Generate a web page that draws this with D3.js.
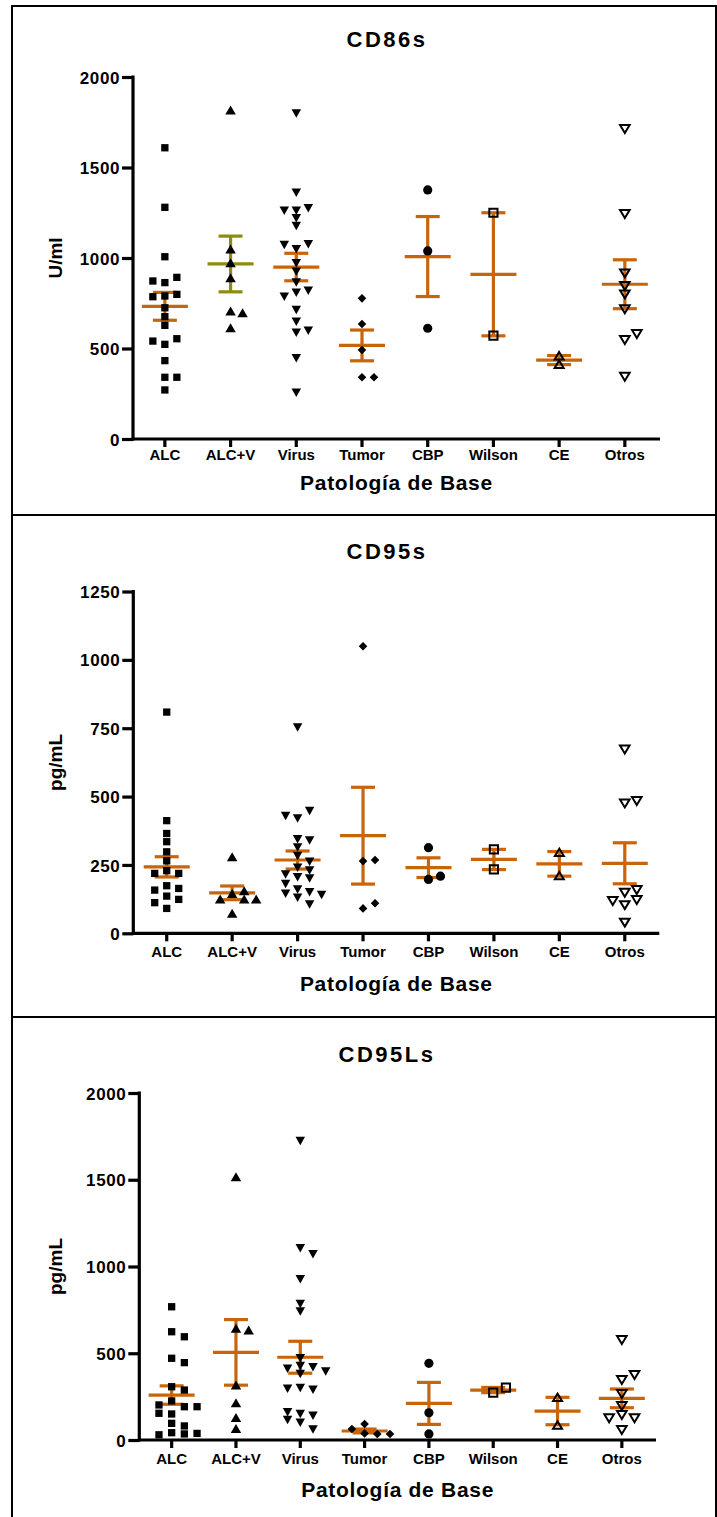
<!DOCTYPE html>
<html>
<head>
<meta charset="utf-8">
<script src="https://cdnjs.cloudflare.com/ajax/libs/d3/7.8.5/d3.min.js"></script>
<style>
  body { margin: 0; background: #fff; }
  svg text { font-family: "Liberation Sans", Arial, Helvetica, sans-serif; font-weight: bold; fill: #000; }
</style>
</head>
<body>
<svg id="chart" width="717" height="1517"></svg>
<script>
// groups, same for the three plots
var categories = ["ALC", "ALC+V", "Virus", "Tumor", "CBP", "Wilson", "CE", "Otros"];

// CD86s (U/ml)
var cd86Ticks = [0, 500, 1000, 1500, 2000];
var cd86Values = [
  [1609, 1280, 1007, 864, 893, 873, 790, 799, 786, 725, 676, 628, 523, 554, 541, 433, 341, 341, 271],
  [1818, 1050, 974, 891, 707, 698, 615],
  [1799, 1361, 1261, 1275, 1261, 1219, 1177, 1048, 1076, 1072, 971, 924, 864, 808, 819, 786, 713, 648, 587, 598, 446, 256],
  [777, 635, 492, 341, 341],
  [1376, 1039, 612],
  [1250, 571],
  [413, 460],
  [1713, 1243, 915, 845, 799, 717, 547, 580, 344]
];
var cd86Mean = [733, 967, 950, 517, 1008, 910, 436, 855];
var cd86Sem  = [77, 154, 76, 85, 221, 340, 25, 135];

// CD95s (pg/mL)
var cd95Ticks = [0, 250, 500, 750, 1000, 1250];
var cd95Values = [
  [809, 412, 365, 335, 298, 265, 229, 219, 219, 174, 164, 158, 136, 124, 112, 91],
  [280, 146, 156, 125, 125, 125, 73],
  [753, 420, 447, 429, 314, 339, 344, 283, 262, 240, 230, 215, 205, 200, 180, 160, 150, 145, 140, 130, 105],
  [1050, 264, 268, 91, 110],
  [313, 197, 209],
  [307, 234],
  [296, 211],
  [672, 475, 484, 148, 158, 103, 122, 118, 39]
];
var cd95Mean = [243, 148, 268, 357, 240, 270, 254, 256];
var cd95Sem  = [37, 25, 33, 177, 36, 37, 45, 75];

// CD95Ls (pg/mL)
var cd95lTicks = [0, 500, 1000, 1500, 2000];
var cd95lValues = [
  [768, 624, 595, 471, 446, 307, 288, 225, 192, 202, 192, 150, 154, 96, 81, 42, 35, 30, 38],
  [1518, 644, 634, 317, 215, 129, 67],
  [1723, 1105, 1070, 926, 784, 740, 471, 427, 420, 410, 380, 395, 300, 290, 295, 150, 140, 160, 115, 100, 60],
  [92, 38, 35, 63, 35],
  [442, 157, 35],
  [273, 302],
  [246, 86],
  [576, 346, 375, 265, 196, 144, 125, 125, 58]
];
var cd95lMean = [259, 505, 477, 52, 211, 288, 167, 240];
var cd95lSem  = [53, 189, 92, 11, 121, 15, 79, 54];

var panels = [
  { title: "CD86s", yLabel: "U/ml", ticks: cd86Ticks, values: cd86Values, mean: cd86Mean, sem: cd86Sem },
  { title: "CD95s", yLabel: "pg/mL", ticks: cd95Ticks, values: cd95Values, mean: cd95Mean, sem: cd95Sem },
  { title: "CD95Ls", yLabel: "pg/mL", ticks: cd95lTicks, values: cd95lValues, mean: cd95lMean, sem: cd95lSem }
];

// where each plot sits on the page
var layout = [
  { axisX: 133,   y0: 439,   yTop: 77,    xr: [132, 657.7], xEnd: 660,   titleY: 47,   catY: 460,  xTitleY: 490,  step: 12 },
  { axisX: 133.3, y0: 933.3, yTop: 591.5, xr: [134, 657.5], xEnd: 659.3, titleY: 559,  catY: 957,  xTitleY: 991,  step: 12 },
  { axisX: 139.3, y0: 1440,  yTop: 1093,  xr: [139.5, 654], xEnd: 656,   titleY: 1062, catY: 1464, xTitleY: 1497, step: 12.7 }
];

var orange = "#c8640a", olive = "#8c8c10";

// marker shapes, one per group
function sq(s) { return "M" + (-s/2) + "," + (-s/2) + "h" + s + "v" + s + "h" + (-s) + "Z"; }
function triUp(w, h) { return "M0," + (-h/2) + "L" + (w/2) + "," + (h/2) + "L" + (-w/2) + "," + (h/2) + "Z"; }
function triDown(w, h) { return "M0," + (h/2) + "L" + (w/2) + "," + (-h/2) + "L" + (-w/2) + "," + (-h/2) + "Z"; }
function diamond(d) { return "M0," + (-d/2) + "L" + (d/2) + ",0L0," + (d/2) + "L" + (-d/2) + ",0Z"; }
function circ(r) { return d3.arc()({innerRadius: 0, outerRadius: r, startAngle: 0, endAngle: 2 * Math.PI}); }

var markers = [
  { d: sq(7.3),           open: false },
  { d: triUp(10.5, 9),    open: false },
  { d: triDown(9.5, 8.5), open: false },
  { d: diamond(8.6),      open: false },
  { d: circ(4.6),         open: false },
  { d: sq(8.2),           open: true },
  { d: triUp(9, 7.4),     open: true },
  { d: triDown(9.6, 8),   open: true }
];

// lay points of one group side by side when they overlap
function spread(vals, y, gap) {
  var placed = [];
  var order = [0, 1, -1, 2, -2];
  return vals.map(function(v) {
    var py = y(v);
    for (var i = 0; i < order.length; i++) {
      var s = order[i];
      var hit = placed.some(function(p) { return p.slot === s && Math.abs(p.y - py) < gap; });
      if (!hit) { placed.push({ slot: s, y: py }); return { v: v, slot: s }; }
    }
    placed.push({ slot: 0, y: py });
    return { v: v, slot: 0 };
  });
}

var svg = d3.select("#chart");

// frame
svg.append("rect").attr("x", 12).attr("y", 6).attr("width", 704).attr("height", 1530)
    .attr("fill", "none").attr("stroke", "#000").attr("stroke-width", 2);
[515, 1017].forEach(function(yy) {
  svg.append("line").attr("x1", 12).attr("x2", 717).attr("y1", yy).attr("y2", yy)
      .attr("stroke", "#000").attr("stroke-width", 2);
});

panels.forEach(function(p, pi) {
  var L = layout[pi];
  var g = svg.append("g");

  var x = d3.scaleBand().domain(categories).range(L.xr).padding(0);
  var y = d3.scaleLinear().domain([0, d3.max(p.ticks)]).range([L.y0, L.yTop]);
  var cx = function(c) { return x(c) + x.bandwidth() / 2; };

  // title
  g.append("text").attr("x", 387).attr("y", L.titleY).attr("text-anchor", "middle")
      .style("font-size", "22px").style("letter-spacing", "2.5px").text(p.title);

  // y axis
  var yAxis = g.append("g").attr("transform", "translate(" + L.axisX + ",0)")
      .call(d3.axisLeft(y).tickValues(p.ticks).tickFormat(d3.format("d"))
        .tickSize(11).tickSizeOuter(0).tickPadding(2));
  yAxis.select(".domain").remove();
  yAxis.selectAll(".tick line").attr("stroke", "#000").attr("stroke-width", 3.2);
  yAxis.selectAll(".tick text").style("font-size", "17px").style("letter-spacing", "0.6px")
      .attr("font-family", null).attr("dy", "0.36em");

  // x axis
  var xAxis = g.append("g").attr("transform", "translate(0," + L.y0 + ")")
      .call(d3.axisBottom(x).tickSize(8).tickSizeOuter(0));
  xAxis.select(".domain").remove();
  xAxis.selectAll(".tick line").attr("stroke", "#000").attr("stroke-width", 3.2);
  xAxis.selectAll(".tick text").style("font-size", "15px").attr("font-family", null)
      .attr("y", L.catY - L.y0).attr("dy", 0);

  // axis lines
  g.append("line").attr("x1", L.axisX).attr("x2", L.axisX).attr("y1", L.yTop - 1.6).attr("y2", L.y0 + 1.6)
      .attr("stroke", "#000").attr("stroke-width", 3.2);
  g.append("line").attr("x1", L.axisX).attr("x2", L.xEnd).attr("y1", L.y0).attr("y2", L.y0)
      .attr("stroke", "#000").attr("stroke-width", 3.2);

  // axis titles
  g.append("text").attr("x", (L.axisX + L.xEnd) / 2).attr("y", L.xTitleY).attr("text-anchor", "middle")
      .style("font-size", "21px").style("letter-spacing", "0.7px").text("Patología de Base");
  g.append("text").attr("transform", "translate(62," + ((L.yTop + L.y0) / 2) + ") rotate(-90)")
      .attr("text-anchor", "middle").style("font-size", "19px").text(p.yLabel);

  // mean and SEM bars
  categories.forEach(function(c, i) {
    var col = (pi === 0 && i === 1) ? olive : orange;
    var m = p.mean[i], s = p.sem[i], xc = cx(c);
    var bars = g.append("g").attr("stroke", col).attr("stroke-width", 3.2);
    bars.append("line").attr("x1", xc).attr("x2", xc).attr("y1", y(m + s)).attr("y2", y(m - s));
    bars.append("line").attr("x1", xc - 23).attr("x2", xc + 23).attr("y1", y(m)).attr("y2", y(m));
    bars.append("line").attr("x1", xc - 12).attr("x2", xc + 12).attr("y1", y(m + s)).attr("y2", y(m + s));
    bars.append("line").attr("x1", xc - 12).attr("x2", xc + 12).attr("y1", y(m - s)).attr("y2", y(m - s));
  });

  // points
  categories.forEach(function(c, i) {
    var mk = markers[i];
    var pts = spread(p.values[i], y, 7.5);
    g.append("g").selectAll("path").data(pts).enter().append("path")
        .attr("d", mk.d)
        .attr("transform", function(d) { return "translate(" + (cx(c) + d.slot * L.step) + "," + y(d.v) + ")"; })
        .attr("fill", mk.open ? "none" : "#000")
        .attr("stroke", "#000")
        .attr("stroke-width", mk.open ? 2 : 0)
        .attr("stroke-linejoin", "miter");
  });
});
</script>
</body>
</html>
